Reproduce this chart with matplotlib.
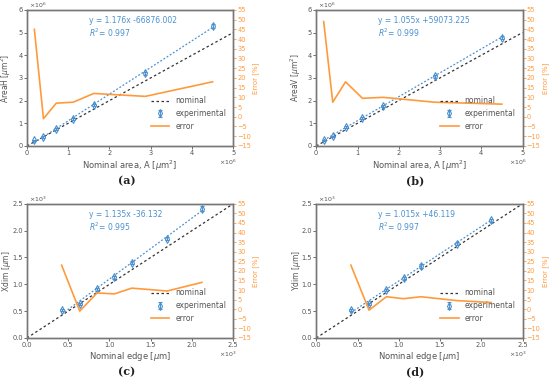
import numpy as np
import matplotlib
matplotlib.use("Agg")
import matplotlib.pyplot as plt

# nominal sizes
area_nom = [0.18, 0.40, 0.71, 1.12, 1.62, 2.87, 4.50]   # x1e6 um^2
edge_nom = [0.42, 0.64, 0.85, 1.06, 1.27, 1.70, 2.12]   # x1e3 um

# measured
area_h = [0.25, 0.40, 0.75, 1.20, 1.80, 3.20, 5.30]
area_v = [0.25, 0.42, 0.82, 1.22, 1.75, 3.07, 4.78]
xdim = [0.52, 0.63, 0.91, 1.13, 1.40, 1.85, 2.41]
ydim = [0.52, 0.63, 0.89, 1.11, 1.34, 1.76, 2.19]

# error bars (same units as measured)
err_h = [0.03, 0.03, 0.04, 0.04, 0.05, 0.07, 0.09]
err_v = [0.03, 0.03, 0.04, 0.04, 0.05, 0.06, 0.08]
err_x = [0.02, 0.02, 0.03, 0.03, 0.03, 0.03, 0.05]
err_y = [0.02, 0.02, 0.02, 0.03, 0.03, 0.03, 0.03]

# relative error [%]
pct_h = [45, -1, 7, 7.5, 12, 10.5, 18]
pct_v = [49, 7.5, 18, 9.5, 10, 7.5, 6.5]
pct_x = [23, -1, 8.5, 8, 11, 9.5, 14]
pct_y = [23, -0.5, 6.5, 5.5, 6.5, 4.5, 3.5]

# linear fits: slope, intercept (raw units), R^2
fit_h = (1.176, -66876.002, 0.997)
fit_v = (1.055, 59073.225, 0.999)
fit_x = (1.135, -36.132, 0.995)
fit_y = (1.015, 46.119, 0.997)

BLUE = "#4a90d0"
ORANGE = "#ff9a3c"
GRAY = "#555555"

plt.rcParams["font.family"] = "DejaVu Sans"
plt.rcParams["font.size"] = 5.5

fig = plt.figure(figsize=(5.5, 3.81), dpi=100)

panels = [
    ("(a)", [0.049, 0.617, 0.375, 0.357], (0.231, 0.525), area_nom, area_h, err_h, pct_h, fit_h,
     1e6, 5, 6, "Nominal area, A [$\\mu$m$^2$]", "AreaH [$\\mu$m$^2$]"),
    ("(b)", [0.575, 0.617, 0.375, 0.357], (0.755, 0.525), area_nom, area_v, err_v, pct_v, fit_v,
     1e6, 5, 6, "Nominal area, A [$\\mu$m$^2$]", "AreaV [$\\mu$m$^2$]"),
    ("(c)", [0.049, 0.113, 0.375, 0.352], (0.231, 0.023), edge_nom, xdim, err_x, pct_x, fit_x,
     1e3, 2.5, 2.5, "Nominal edge [$\\mu$m]", "Xdim [$\\mu$m]"),
    ("(d)", [0.575, 0.113, 0.375, 0.352], (0.755, 0.023), edge_nom, ydim, err_y, pct_y, fit_y,
     1e3, 2.5, 2.5, "Nominal edge [$\\mu$m]", "Ydim [$\\mu$m]"),
]

for tag, rect, tagpos, xn, ym, ye, pe, fit, scale, xmax, ymax, xlab, ylab in panels:
    ax = fig.add_axes(rect)
    xn = np.array(xn)
    k, b, r2 = fit
    exp = int(np.log10(scale))

    l1, = ax.plot([0, xmax], [0, xmax], ls=(0, (2, 2)), color="#333333", lw=0.9)
    ax.plot(xn, k * xn + b / scale, ls=(0, (1.5, 1.5)), color=BLUE, lw=0.9)
    l2 = ax.errorbar(xn, ym, yerr=ye, fmt="d", mfc="none", mec=BLUE, ecolor=BLUE,
                     ms=4, mew=0.8, elinewidth=0.7, capsize=1.2)

    ax.set_xlim(0, xmax)
    ax.set_ylim(0, ymax)
    if scale == 1e6:
        ax.set_xticks(np.arange(0, 6, 1))
        ax.set_yticks(np.arange(0, 7, 1))
    else:
        ax.set_xticks(np.arange(0, 2.51, 0.5))
        ax.set_yticks(np.arange(0, 2.51, 0.5))
        ax.xaxis.set_major_formatter(lambda v, p: f"{v:.1f}")
        ax.yaxis.set_major_formatter(lambda v, p: f"{v:.1f}")
    ax.text(0.975, -0.085, f"$\\times10^{exp}$", transform=ax.transAxes, ha="center",
            va="top", fontsize=4.5, color=GRAY)
    ax.text(0.01, 1.0, f"$\\times10^{exp}$", transform=ax.transAxes, ha="left",
            va="bottom", fontsize=4.5, color=GRAY)

    ax.set_xlabel(xlab, fontsize=6, color=GRAY, labelpad=1.5)
    ax.set_ylabel(ylab, fontsize=5.5, color=GRAY)
    ax.yaxis.set_label_coords(-0.066, 0.5)
    ax.tick_params(colors=GRAY, labelsize=4.8, length=2, width=0.6, pad=1)
    for s in ax.spines.values():
        s.set_color("#777777")
        s.set_linewidth(1.0)

    sign = "-" if b < 0 else "+"
    ax.text(0.3, 0.92, f"y = {k:.3f}x {sign}{abs(b):.3f}", va="center",
            transform=ax.transAxes, color=BLUE, fontsize=5.5)
    ax.text(0.3, 0.83, f"$R^2$= {r2:.3f}", va="center",
            transform=ax.transAxes, color=BLUE, fontsize=5.5)

    ax2 = ax.twinx()
    l3, = ax2.plot(xn, pe, color=ORANGE, lw=1.2)
    ax2.set_ylim(-15, 55)
    ax2.set_yticks(np.arange(-15, 56, 5))
    ax2.tick_params(colors=ORANGE, labelsize=4.8, length=2, width=0.6, pad=1)
    ax2.set_ylabel("Error [%]", color=ORANGE, fontsize=5, labelpad=1)
    for s in ax2.spines.values():
        s.set_color("#777777")
        s.set_linewidth(1.0)

    ax2.legend([l1, l2, l3], ["nominal", "experimental", "error"], loc="lower right",
               bbox_to_anchor=(1.0, 0.06), frameon=False, fontsize=5.5,
               labelcolor=GRAY, handlelength=2.4)

    fig.text(tagpos[0], tagpos[1], tag, ha="center", va="center",
             fontsize=8, family="DejaVu Serif", fontweight="bold", color="#222222")

fig.savefig("out.png", dpi=100)
